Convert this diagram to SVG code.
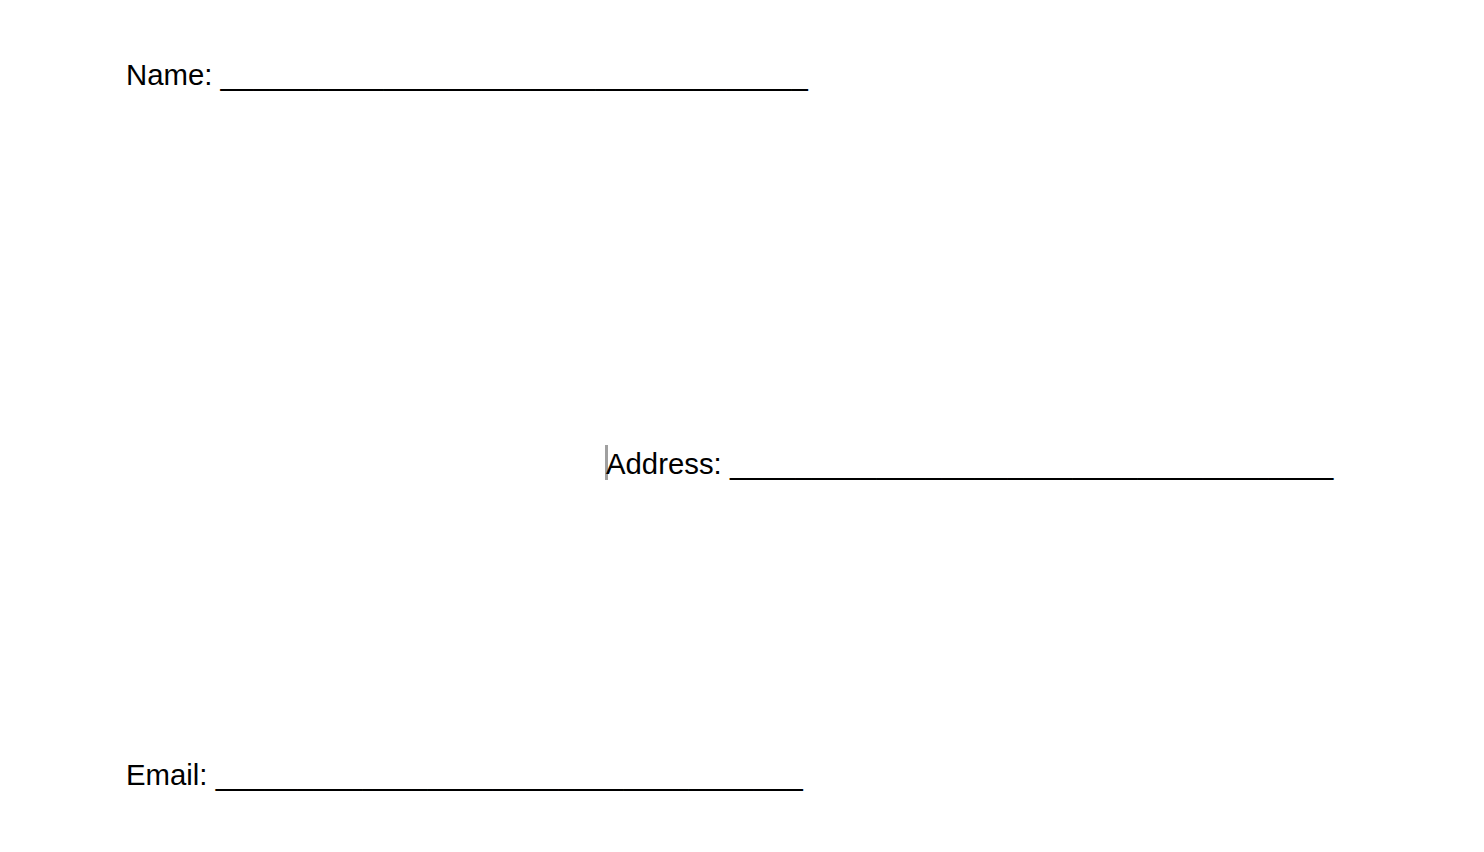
<svg xmlns="http://www.w3.org/2000/svg" width="1484" height="852" viewBox="0 0 1484 852">
<style>
text{font-family:"Liberation Sans",Arial,sans-serif;font-size:29.33px;fill:#000}
</style>
<rect width="1484" height="852" fill="#fff"/>
<g id="name"><text x="126" y="85">Name: ____________________________________</text></g>
<g id="address"><rect x="605" y="445" width="3" height="35" fill="#a0a0a0"/><text x="606" y="473.5">Address: _____________________________________</text></g>
<g id="email"><text x="126" y="785">Email: ____________________________________</text></g>
</svg>
